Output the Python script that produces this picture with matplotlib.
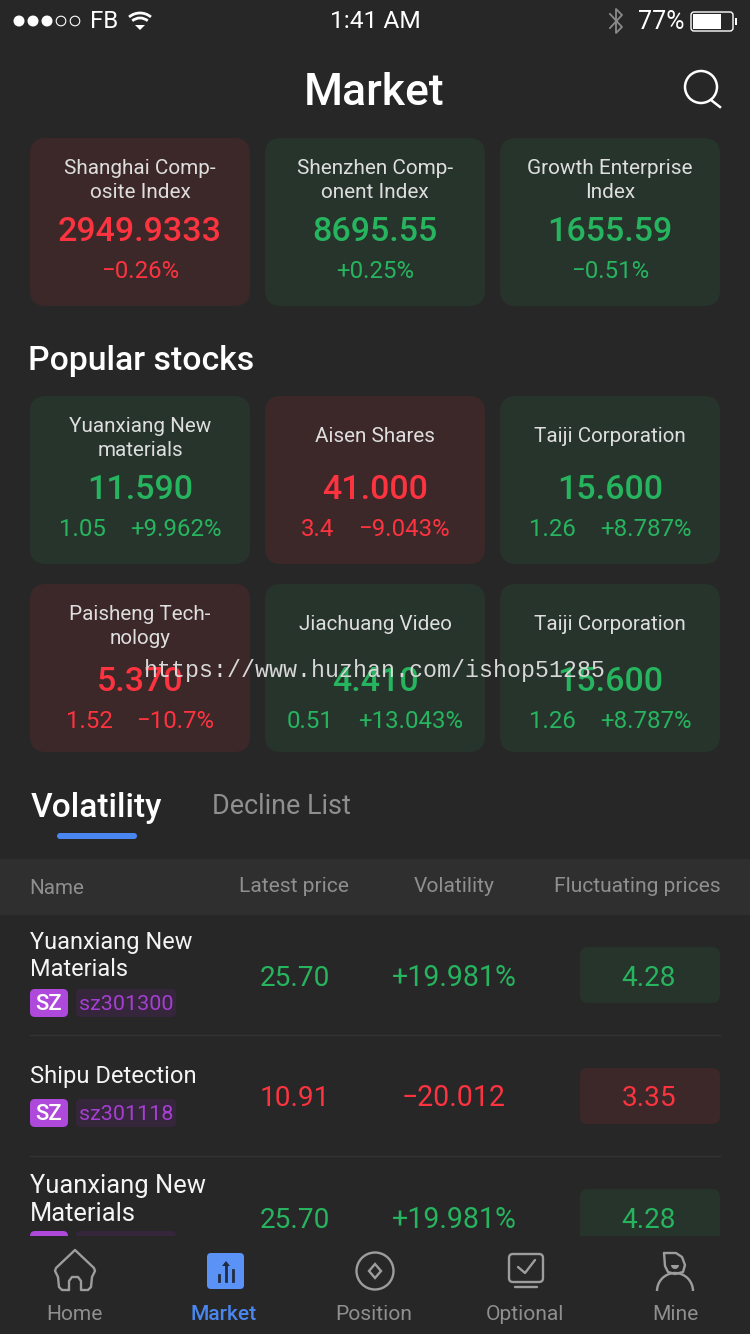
import matplotlib
matplotlib.use("Agg")
import matplotlib.pyplot as plt
from matplotlib.patches import FancyBboxPatch, Rectangle, Circle, Polygon, Arc, Wedge

plt.rcParams['font.family'] = ['Roboto', 'DejaVu Sans']

BG = '#272727'
RED = '#fd3340'
GREEN = '#26b45f'
RED_CARD = '#3d2829'
GREEN_CARD = '#26342c'
GREY = '#8f8f8f'
BLUE = '#4a86f0'
PURPLE = '#ae49dc'

# index cards
index_names = ['Shanghai Comp-\nosite Index', 'Shenzhen Comp-\nonent Index', 'Growth Enterprise\nIndex']
index_values = ['2949.9333', '8695.55', '1655.59']
index_changes = ['-0.26%', '+0.25%', '-0.51%']
index_up = [False, True, True]

# popular stocks
stock_names = ['Yuanxiang New\nmaterials', 'Aisen Shares', 'Taiji Corporation',
               'Paisheng Tech-\nnology', 'Jiachuang Video', 'Taiji Corporation']
stock_prices = ['11.590', '41.000', '15.600', '5.370', '4.410', '15.600']
stock_diffs = ['1.05', '3.4', '1.26', '1.52', '0.51', '1.26']
stock_pcts = ['+9.962%', '-9.043%', '+8.787%', '-10.7%', '+13.043%', '+8.787%']
stock_up = [True, False, True, False, True, True]

# table
table_headers = ['Name', 'Latest price', 'Volatility', 'Fluctuating prices']
row_names = ['Yuanxiang New\nMaterials', 'Shipu Detection', 'Yuanxiang New\nMaterials']
row_codes = ['sz301300', 'sz301118', 'sz301300']
row_prices = ['25.70', '10.91', '25.70']
row_vols = ['+19.981%', '-20.012', '+19.981%']
row_flucts = ['4.28', '3.35', '4.28']
row_up = [True, False, True]

tab_labels = ['Home', 'Market', 'Position', 'Optional', 'Mine']

fig = plt.figure(figsize=(7.5, 13.34), dpi=100, facecolor=BG)
ax = fig.add_axes([0, 0, 1, 1])
ax.set_xlim(0, 750)
ax.set_ylim(1334, 0)
ax.axis('off')


def txt(x, y, s, px, color='white', ha='center', weight='normal', **kw):
    # roboto sits about 2px higher than the screenshot font
    return ax.text(x, y + 2, s, fontsize=px * 0.72, color=color, ha=ha, va='center',
                   weight=weight, **kw)


def box(x0, y0, x1, y1, r, color, z=1):
    p = FancyBboxPatch((x0 + r, y0 + r), x1 - x0 - 2 * r, y1 - y0 - 2 * r,
                       boxstyle=f'round,pad={r},rounding_size={r}', fc=color, ec='none', zorder=z)
    ax.add_patch(p)


def card(x0, y0, up):
    box(x0, y0, x0 + 220, y0 + 168, 16, GREEN_CARD if up else RED_CARD)


def name_lines(x, y, name, px=20.5):
    lines = name.split('\n')
    if len(lines) == 2:
        txt(x, y - 12, lines[0], px, color='#dedede')
        txt(x, y + 12, lines[1], px, color='#dedede')
    else:
        txt(x, y, name, px, color='#dedede')


def pair(cx, y, left, right, px, col, gap=24):
    # two values centred together as one group
    rend = fig.canvas.get_renderer()
    a = txt(0, y, left, px, color=col, ha='left')
    b = txt(0, y, right, px, color=col, ha='left')
    wa = a.get_window_extent(rend).width
    wb = b.get_window_extent(rend).width
    start = cx - (wa + wb + gap) / 2
    a.set_x(start)
    b.set_x(start + wa + gap)


card_x = [30, 265, 500]

# status bar
for i, cx in enumerate([19, 33, 47, 61, 75]):
    if i < 3:
        ax.add_patch(Circle((cx, 21), 5.5, fc='white', ec='none'))
    else:
        ax.add_patch(Circle((cx, 21), 4.8, fc='none', ec='white', lw=0.8))
txt(90, 20, 'FB', 24, ha='left')
for r in (14, 9):
    ax.add_patch(Arc((140, 30), 2 * r + 6, 2 * r + 6, theta1=-130, theta2=-50, ec='white', lw=2))
ax.add_patch(Polygon([[135, 25], [145, 25], [140, 30]], fc='white', ec='none'))
txt(375, 20, '1:41 AM', 24.5)
ax.plot([610, 622, 616, 616, 622, 610], [14, 27, 33, 9, 15, 28], color='#8a8a8a', lw=1.3)
txt(638, 20, '77%', 25, ha='left')
ax.add_patch(FancyBboxPatch((691, 12), 42, 19, boxstyle='round,pad=0,rounding_size=3', fc='none', ec='white', lw=1))
ax.add_patch(Rectangle((693, 14), 28, 15, fc='white', ec='none'))
ax.add_patch(Rectangle((735, 18), 2, 7, fc='white', ec='none'))

# title
txt(374, 91, 'Market', 44.5, weight='medium')
ax.add_patch(Circle((701, 87), 16, fc='none', ec='white', lw=1.8))
ax.plot([711, 720], [100, 107], color='white', lw=1.8)

# index cards
for i in range(3):
    cx = card_x[i] + 110
    col = GREEN if index_up[i] else RED
    card(card_x[i], 138, index_up[i])
    name_lines(cx, 178.5, index_names[i], 20.8)
    txt(cx, 230, index_values[i], 34, color=col, weight='medium')
    txt(cx, 269, index_changes[i].replace('-', '\u2212'), 24, color=col)

txt(28, 359, 'Popular stocks', 33.8, ha='left', weight='medium')

# popular stock cards
for i in range(6):
    row = i // 3
    x0 = card_x[i % 3]
    y0 = [396, 584][row]
    cx = x0 + 110
    col = GREEN if stock_up[i] else RED
    card(x0, y0, stock_up[i])
    name_lines(cx, y0 + (40 if '\n' in stock_names[i] else 38), stock_names[i], 20.6)
    txt(cx, y0 + 92 + (4 if row else 0), stock_prices[i], 34, color=col, weight='medium')
    pair(cx, y0 + 131 + (4 if row else 0), stock_diffs[i], stock_pcts[i].replace('-', '\u2212'), 24, col)

# tabs
txt(31, 806, 'Volatility', 33.5, ha='left', weight='medium')
txt(212, 805, 'Decline List', 27, ha='left', color=GREY)
box(57, 833, 137, 839, 3, BLUE)

# table header
ax.add_patch(Rectangle((0, 859), 750, 56, fc='#2f2f2f', ec='none'))
txt(29, 887, table_headers[0], 20.5, ha='left', color=GREY)
txt(294, 885, table_headers[1], 21, color=GREY)
txt(454, 885, table_headers[2], 21, color=GREY)
txt(637, 885, table_headers[3], 21, color=GREY)

# rows
row_mid = [976, 1096, 1218]
name_y = [[941, 968], [1075], [1184, 1212]]
name_px = [23.5, 23.7, 25.5]
tag_y = [1003, 1113, 1245]
fluct_top = [947, 1068, 1189]
for i in range(3):
    col = GREEN if row_up[i] else RED
    for line, y in zip(row_names[i].split('\n'), name_y[i]):
        txt(30, y, line, name_px[i], ha='left', color='#f4f4f4')
    box(30, tag_y[i] - 14, 68, tag_y[i] + 14, 5, PURPLE)
    txt(49, tag_y[i], 'SZ', 22, weight='medium')
    box(76, tag_y[i] - 14, 176, tag_y[i] + 14, 5, '#35263c')
    txt(126, tag_y[i], row_codes[i], 21.5, color='#a63fd2')
    txt(295, row_mid[i], row_prices[i], 28, color=col)
    txt(454, row_mid[i], row_vols[i].replace('-', '\u2212'), 28.5, color=col)
    box(580, fluct_top[i], 720, fluct_top[i] + 56, 8, GREEN_CARD if row_up[i] else RED_CARD)
    txt(649, row_mid[i], row_flucts[i], 28, color=col)
for y in (1035, 1156):
    ax.plot([30, 720], [y, y], color='#333333', lw=1)

# bottom tab bar
ax.add_patch(Rectangle((0, 1236), 750, 98, fc=BG, ec='none', zorder=3))
ICON = '#9d9d9d'
tab_x = [74, 224, 374, 525, 675]
for i, lab in enumerate(tab_labels):
    ax.text(tab_x[i], 1314, lab, fontsize=21 * 0.72, color=BLUE if i == 1 else GREY,
            ha='center', va='center', zorder=5, weight='medium' if i == 1 else 'normal')

kw = dict(color=ICON, lw=1.7, zorder=5, solid_capstyle='round', solid_joinstyle='round')
# home
ax.plot([69, 69, 72, 78, 81, 81, 88, 91, 92, 95, 94, 75, 56, 55, 58, 59, 62, 69],
        [1290, 1281, 1277, 1277, 1281, 1290, 1290, 1287, 1277, 1271, 1268, 1250, 1268, 1271, 1277, 1287, 1290, 1290], **kw)
# market
ax.add_patch(FancyBboxPatch((207, 1253), 37, 36, boxstyle='round,pad=0,rounding_size=4', fc='#5a93f5', ec='none', zorder=5))
for x, top in zip([219, 226, 233], [1275, 1266, 1270]):
    ax.plot([x, x], [top, 1281], color='#202b40', lw=2, zorder=6)
ax.add_patch(Polygon([[222, 1266], [230, 1266], [226, 1261]], fc='#202b40', ec='none', zorder=6))
# position
ax.add_patch(Circle((375, 1271), 18.5, fc='none', ec=ICON, lw=1.7, zorder=5))
ax.add_patch(Polygon([[375, 1264], [381, 1271], [375, 1278], [369, 1271]], fc='none', ec=ICON, lw=1.7, zorder=5))
# optional
ax.add_patch(FancyBboxPatch((509, 1254), 34, 28, boxstyle='round,pad=0,rounding_size=4', fc='none', ec=ICON, lw=1.7, zorder=5))
ax.plot([518, 525, 535], [1267, 1273, 1260], **kw)
ax.plot([515, 537], [1287, 1287], **kw)
# mine
ax.plot([664, 676, 682, 685, 683, 675, 668, 665, 664], [1253, 1253, 1257, 1265, 1272, 1274, 1272, 1266, 1253], **kw)
ax.add_patch(Wedge((675, 1265), 4, 0, 180, fc=ICON, ec='none', zorder=5))
ax.add_patch(Arc((675, 1291), 36, 36, theta1=180, theta2=360, ec=ICON, lw=1.7, zorder=5))

# watermark
ax.text(375, 671, 'https://www.huzhan.com/ishop51285', fontsize=23.3 * 0.72, color='#d8d8d8',
        ha='center', va='center', zorder=8, family=['Liberation Mono', 'DejaVu Sans Mono'])

fig.savefig('out.png', dpi=100, facecolor=BG)
